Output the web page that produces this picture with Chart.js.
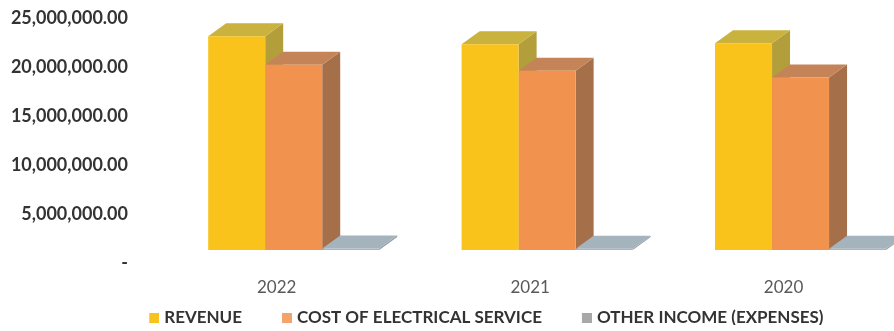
<!DOCTYPE html>
<html>
<head>
<meta charset="utf-8">
<script src="https://cdn.jsdelivr.net/npm/chart.js@4/dist/chart.umd.min.js"></script>
<style>
  html, body { margin: 0; padding: 0; background: #ffffff; overflow: hidden; }
  #wrap { width: 894px; height: 331px; overflow: hidden; position: relative; }
  #c { position: absolute; left: 0; top: 0; }
</style>
</head>
<body>
<div id="wrap"><canvas id="c" width="940" height="331"></canvas></div>
<script>
// ---- data ----
const categories = ['2022', '2021', '2020'];
const revenue = [21800000, 21000000, 21100000];
const costOfElectricalService = [18900000, 18300000, 17600000];
const otherIncomeExpenses = [150000, 120000, 130000];
const yTickValues = [0, 5000000, 10000000, 15000000, 20000000, 25000000];
const seriesNames = ['REVENUE', 'COST OF ELECTRICAL SERVICE', 'OTHER INCOME (EXPENSES)'];

// ---- styling ----
const DX = 18, DY = 13;
const faceColors = [
  { front: '#F9C31C', top: '#C9B23E', side: '#B39E3C', legend: '#F7C41F' },
  { front: '#F1924F', top: '#C58457', side: '#A56F4A', legend: '#F4A36C' },
  { front: '#A7B5BF', top: '#A5B3BD', side: '#8E9AA2', legend: '#A8A8A8' }
];
const LEGEND_SLOT = 42, LEGEND_BOX = 10, LEGEND_OVERHANG = 3.5;

function legendSwatch(color) {
  const cv = document.createElement('canvas');
  cv.width = LEGEND_SLOT + 2 * LEGEND_OVERHANG; cv.height = LEGEND_BOX;
  const g = cv.getContext('2d');
  g.fillStyle = color;
  g.fillRect(cv.width - LEGEND_BOX, 0, LEGEND_BOX, LEGEND_BOX);
  return cv;
}

const depthPlugin = {
  id: 'depth3d',
  beforeDatasetsDraw(chart) {
    const ctx = chart.ctx;
    const poly = pts => {
      ctx.beginPath();
      ctx.moveTo(pts[0][0], pts[0][1]);
      for (let k = 1; k < pts.length; k++) ctx.lineTo(pts[k][0], pts[k][1]);
      ctx.closePath();
      ctx.fill();
    };
    ctx.save();
    for (let i = 0; i < chart.data.labels.length; i++) {
      chart.data.datasets.forEach((ds, d) => {
        const bar = chart.getDatasetMeta(d).data[i];
        if (!bar) return;
        const p = bar.getProps(['x', 'y', 'base', 'width'], true);
        const l = p.x - p.width / 2, r = p.x + p.width / 2;
        const top = Math.min(p.y, p.base), bot = Math.max(p.y, p.base);
        ctx.fillStyle = faceColors[d].side;
        poly([[r, top], [r + DX, top - DY], [r + DX, bot - DY], [r, bot]]);
        ctx.fillStyle = faceColors[d].top;
        poly([[l, top], [l + DX, top - DY], [r + DX, top - DY], [r, top]]);
      });
    }
    ctx.restore();
  }
};

const seriesValues = [revenue, costOfElectricalService, otherIncomeExpenses];

new Chart(document.getElementById('c'), {
  type: 'bar',
  data: {
    labels: categories,
    datasets: seriesValues.map((vals, d) => ({
      label: seriesNames[d],
      data: vals,
      backgroundColor: faceColors[d].front,
      borderWidth: 0,
      categoryPercentage: 0.675,
      barPercentage: 1.0
    }))
  },
  options: {
    responsive: false,
    animation: false,
    layout: { padding: { left: 10, right: 12.75, top: 5, bottom: 6 } },
    plugins: {
      tooltip: { enabled: false },
      legend: {
        position: 'bottom',
        maxHeight: 20,
        labels: {
          usePointStyle: true,
          pointStyleWidth: LEGEND_SLOT,
          boxHeight: LEGEND_BOX,
          padding: 4.5,
          color: '#333333',
          font: { family: 'Lato', size: 17, weight: 'bold' },
          generateLabels(chart) {
            return chart.data.datasets.map((ds, d) => ({
              text: ds.label,
              fillStyle: faceColors[d].legend,
              strokeStyle: faceColors[d].legend,
              lineWidth: 0,
              pointStyle: legendSwatch(faceColors[d].legend),
              fontColor: '#333333',
              datasetIndex: d,
              hidden: false
            }));
          }
        }
      }
    },
    scales: {
      x: {
        offset: true,
        grid: { display: false, drawTicks: false },
        border: { display: false },
        ticks: {
          labelOffset: -17,
          padding: 27,
          color: '#595959',
          font: { family: 'Lato', size: 17 }
        },
        afterFit(s) { s.height = 55; s.paddingLeft = 0; s.paddingRight = 0; }
      },
      y: {
        min: 0,
        max: 25000000,
        grid: { display: false, drawTicks: false },
        border: { display: false },
        afterBuildTicks(s) { s.ticks = yTickValues.map(v => ({ value: v })); },
        ticks: {
          labelOffset: 13,
          padding: 39,
          color: '#333333',
          font: { family: 'Lato', size: 18, weight: 'bold' },
          callback: v => v === 0 ? '-' : Number(v).toLocaleString('en-US', { minimumFractionDigits: 2, maximumFractionDigits: 2 })
        },
        afterFit(s) { s.width = 157; s.paddingTop = 0; s.paddingBottom = 0; }
      }
    }
  },
  plugins: [depthPlugin]
});
</script>
</body>
</html>
